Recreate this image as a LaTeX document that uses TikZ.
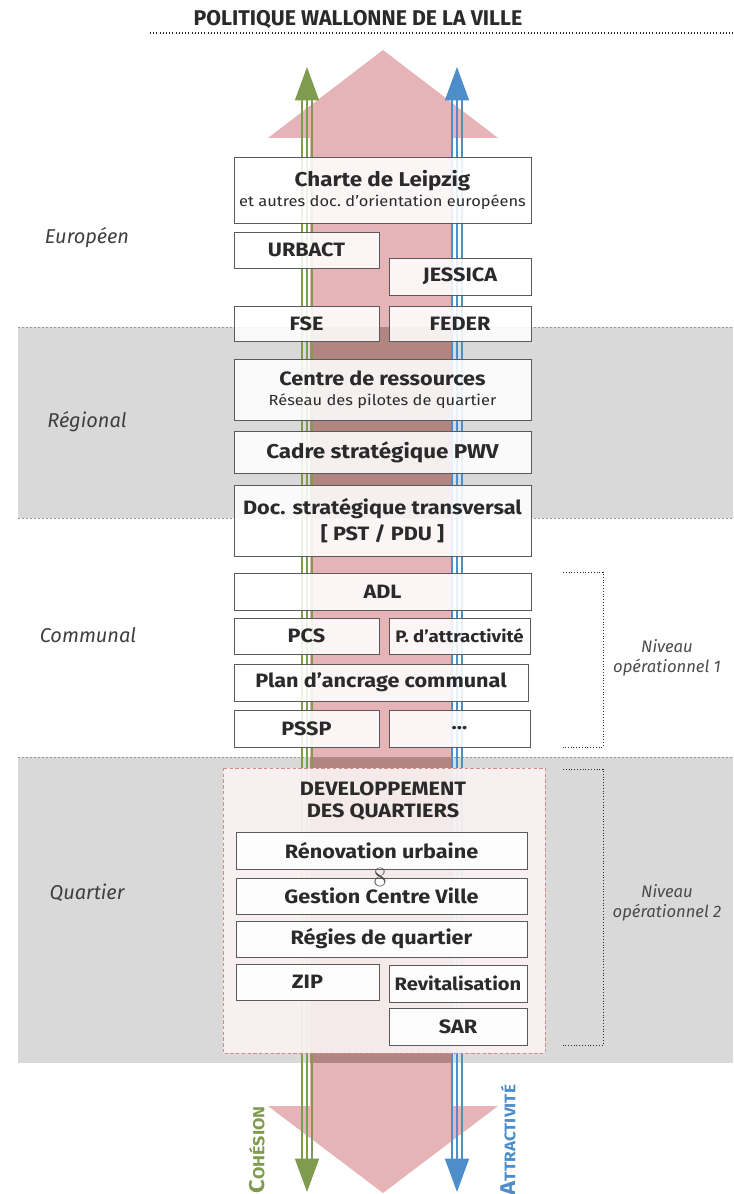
\documentclass[tikz,border=0pt]{standalone}
\usepackage{fontspec}
\usetikzlibrary{arrows.meta}
\newfontfamily\plainfont{Fira Sans}
\newfontfamily\dinfont[FakeStretch=1.12]{Fira Sans}
\newfontfamily\markfont{Latin Modern Roman}
\newcommand{\subfont}{\dinfont\mdseries\fontsize{11}{12}\selectfont}
\newcommand{\tightfont}[1]{\fontsize{#1}{16}\selectfont}

\definecolor{rose}{HTML}{E6B4B7}
\definecolor{rosedark}{HTML}{B28482}
\definecolor{bandgray}{HTML}{D9D9D9}
\definecolor{cohgreen}{HTML}{7E9B4E}
\definecolor{attrblue}{HTML}{4D8DC9}
\definecolor{framegray}{HTML}{5A5A5A}
\definecolor{ink}{HTML}{2A2A2A}
\definecolor{devfill}{HTML}{FBF3F3}
\definecolor{devdash}{HTML}{D48A8A}

\tikzset{
  box/.style={draw=framegray, fill=white, fill opacity=0.88, text opacity=1,
    line width=0.7pt},
  boxtext/.style={text=ink, font=\dinfont\bfseries\fontsize{14.5}{17}\selectfont,
    align=center, inner sep=0pt},
  level/.style={text=ink!90, font=\plainfont\itshape\fontsize{15}{18}\selectfont},
  niveau/.style={text=ink!85, font=\plainfont\itshape\fontsize{12.5}{15}\selectfont,
    align=center},
  sepline/.style={draw=gray!80, line width=0.6pt, dash pattern=on 1.2pt off 1.8pt},
  bracket/.style={draw=ink, line width=0.7pt, dash pattern=on 0.7pt off 1.4pt},
  flowline/.style={line width=1pt},
  flowlabel/.style={rotate=90, font=\dinfont\bfseries\fontsize{16}{18}\selectfont}
}

\begin{document}
\begin{tikzpicture}[x=0.75pt, y=-0.75pt]
  \useasboundingbox (0,0) rectangle (733,1194);

  % Title
  \node [text=ink, font=\plainfont\bfseries\fontsize{16}{18}\selectfont] (title)
    at (358,20) {POLITIQUE WALLONNE DE LA VILLE};
  \draw [draw=ink, line width=0.8pt, dash pattern=on 0.8pt off 1.6pt]
    (150,33) -- (733,33);

  % Big pink arrow
  \fill [rose] (310,138) -- (268,138) -- (383,50) -- (498,138) -- (453,138)
    -- (453,1106) -- (498,1106) -- (383,1193) -- (268,1106) -- (310,1106)
    -- cycle;

  % Bands
  \fill [bandgray] (18,327) rectangle (733,518);
  \fill [bandgray] (18,757) rectangle (733,1063);
  \fill [rosedark] (310,327) rectangle (453,518);
  \fill [rosedark] (310,757) rectangle (453,1063);
  \draw [sepline] (18,327) -- (733,327);
  \draw [sepline] (18,518) -- (733,518);
  \draw [sepline] (18,757) -- (733,757);

  % Cohesion / Attractivite arrows
  \coordinate (cohtop) at (307,67);
  \coordinate (cohbot) at (307,1192);
  \coordinate (attrtop) at (457,67);
  \coordinate (attrbot) at (457,1192);
  \foreach \dx in {-5,5} {
    \draw [cohgreen, flowline, shorten <=22pt, shorten >=22pt]
      ([xshift=\dx*0.75pt]cohbot) -- ([xshift=\dx*0.75pt]cohtop);
    \draw [attrblue, flowline, shorten <=22pt, shorten >=22pt]
      ([xshift=\dx*0.75pt]attrbot) -- ([xshift=\dx*0.75pt]attrtop);
  }
  \draw [cohgreen, flowline, {Triangle[length=25pt,width=18pt]}-{Triangle[length=25pt,width=18pt]}]
    (cohbot) -- (cohtop);
  \draw [attrblue, flowline, {Triangle[length=25pt,width=18pt]}-{Triangle[length=25pt,width=18pt]}]
    (attrbot) -- (attrtop);
  \node [flowlabel, text=cohgreen] (cohlabel) at (257,1150)
    {C{\fontsize{12}{14}\selectfont OHÉSION}};
  \node [flowlabel, text=attrblue] (attrlabel) at (508,1140)
    {A{\fontsize{11.5}{14}\selectfont TTRACTIVITÉ}};

  % Levels
  \node [level] (europ) at (87,238) {Européen};
  \node [level] (regio) at (87,422) {Régional};
  \node [level] (commu) at (88,635) {Communal};
  \node [level] (quart) at (87,893) {Quartier};

  % European
  \draw [box] (234,157) rectangle (531,223) node [midway, boxtext] (charte)
    {\tightfont{15}Charte de Leipzig\\[-2pt]{\subfont et autres doc.\ d’orientation européens}};
  \draw [box] (234,232) rectangle (379,268) node [midway, boxtext] (urbact) {URBACT};
  \draw [box] (389,258) rectangle (531,295) node [midway, boxtext] (jessica) {JESSICA};
  \draw [box] (234,306) rectangle (379,341) node [midway, boxtext] (fse) {FSE};
  \draw [box] (389,306) rectangle (531,341) node [midway, boxtext] (feder) {FEDER};

  % Regional
  \draw [box] (234,359) rectangle (531,420) node [midway, boxtext] (centre)
    {Centre de ressources\\[-2pt]{\subfont Réseau des pilotes de quartier}};
  \draw [box] (234,431) rectangle (531,473) node [midway, boxtext] (cadre)
    {\tightfont{15}Cadre stratégique PWV};
  \draw [box] (234,485) rectangle (531,556) node [midway, boxtext] (docst)
    {Doc. stratégique transversal\\[3pt]{[} PST / PDU ]};

  % Communal
  \draw [box] (234,573) rectangle (531,610) node [midway, boxtext] (adl) {ADL};
  \draw [box] (234,618) rectangle (379,654) node [midway, boxtext] (pcs) {PCS};
  \draw [box] (389,618) rectangle (530,654) node [midway, boxtext] (pattr)
    {\tightfont{12.5}P. d’attractivité};
  \draw [box] (234,664) rectangle (528,701) node [midway, boxtext] (ancrage)
    {Plan d’ancrage communal};
  \draw [box] (234,710) rectangle (379,747) node [midway, boxtext] (pssp) {PSSP};
  \draw [box] (389,710) rectangle (530,747) node [midway, boxtext] (etc) {...};

  % Quartier
  \draw [draw=devdash, fill=devfill, fill opacity=0.92, line width=0.7pt,
    dash pattern=on 2.5pt off 1.8pt] (223,768) rectangle (545,1053);
  \node [boxtext] (devq) at (383,801) {DEVELOPPEMENT\\DES QUARTIERS};
  \draw [box] (236,832) rectangle (527,869) node [midway, boxtext] (renov)
    {Rénovation urbaine};
  \draw [box] (236,878) rectangle (527,914) node [midway, boxtext] (gestion)
    {Gestion Centre Ville};
  \node [text=gray!60!black, inner sep=0pt, font=\markfont\fontsize{21}{21}\selectfont]
    (eight) at (380,877) {8};
  \draw [box] (236,921) rectangle (527,957) node [midway, boxtext] (regies)
    {Régies de quartier};
  \draw [box] (236,964) rectangle (379,1000) node [midway, boxtext] (zip) {ZIP};
  \draw [box] (389,965) rectangle (527,1002) node [midway, boxtext] (revit)
    {\tightfont{13.5}Revitalisation};
  \draw [box] (389,1008) rectangle (527,1045) node [midway, boxtext] (sar) {SAR};

  % Operational levels
  \draw [bracket] (563,572) -- (603,572) -- (603,747) -- (563,747);
  \draw [bracket] (563,769) -- (603,769) -- (603,1045) -- (563,1045);
  \node [niveau] (niv1) at (667,658) {Niveau\\opérationnel 1};
  \node [niveau] (niv2) at (667,903) {Niveau\\opérationnel 2};
\end{tikzpicture}
\end{document}
